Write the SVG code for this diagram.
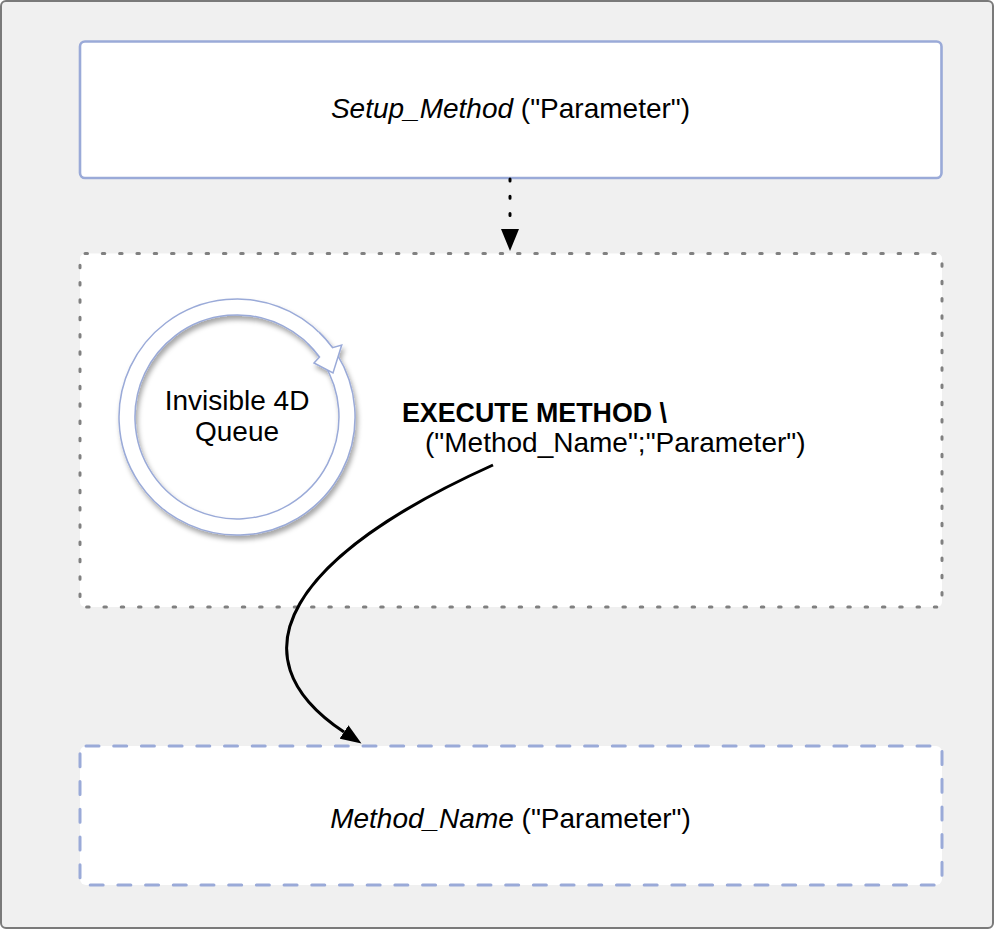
<svg xmlns="http://www.w3.org/2000/svg" width="995" height="930" viewBox="0 0 995 930">
  <defs>
    <style>
      .label { font-family: "Liberation Sans", Arial, Helvetica, sans-serif; font-size: 28px; fill: #000; }
      .em { font-style: italic; }
      .strong { font-weight: bold; font-size: 26.8px; }
      .solid-box { fill: #fff; stroke: #9aaad8; stroke-width: 2.6; }
      .dotted-box { fill: #fff; stroke: #808080; stroke-width: 3; stroke-linecap: round; stroke-dasharray: 2.5 14.8; }
      .dashed-box { fill: #fff; stroke: #9aaad8; stroke-width: 3; stroke-linecap: round; stroke-dasharray: 13 14.7; }
      .ring { fill: #fff; stroke: #9aaad8; stroke-width: 1.5; stroke-linejoin: miter; }
      .link { fill: none; stroke: #000; stroke-width: 3; }
      .dots { stroke-linecap: round; stroke-dasharray: 2 15.3; }
    </style>
    <marker id="head" markerUnits="userSpaceOnUse" viewBox="0 0 22 18" markerWidth="22" markerHeight="18" refX="0" refY="9" orient="auto">
      <path d="M0,0 L22,9 L0,18 Z" fill="#000"/>
    </marker>
    <marker id="head-small" markerUnits="userSpaceOnUse" viewBox="0 0 21 16" markerWidth="21" markerHeight="16" refX="0" refY="8" orient="auto">
      <path d="M0,0 L21,8 L0,16 Z" fill="#000"/>
    </marker>
    <filter id="shadow" x="-20%" y="-20%" width="140%" height="140%">
      <feDropShadow dx="2" dy="4" stdDeviation="2.5" flood-color="#000" flood-opacity="0.35"/>
    </filter>
  </defs>

  <!-- canvas frame -->
  <rect x="1" y="1" width="992" height="927" rx="5" fill="#f0f0f0" stroke="#7a7a7a" stroke-width="2"/>

  <g id="setup">
    <rect class="solid-box" x="80" y="41.5" width="861.5" height="136.5" rx="5"/>
    <text class="label" x="510.5" y="118" text-anchor="middle"><tspan class="em">Setup_Method</tspan> ("Parameter")</text>
  </g>

  <g id="process">
    <rect class="dotted-box" x="80" y="253.5" width="862" height="353.5" rx="5"/>
  </g>

  <!-- circular queue arrow: ring body, then the head laid over the tail -->
  <g id="queue" filter="url(#shadow)">
    <path class="ring" d="M337.07,354.47 A118,118 0 1 1 332.46,347.64 L319.52,357.04 A102,102 0 1 0 323.50,362.95 Z"/>
    <path class="ring" d="M318.97,332.12 A118,118 0 0 1 332.46,347.64 L341.7,345 L333,373 L314,363 L319.52,357.04 A102,102 0 0 0 307.86,343.63"/>
  </g>
  <g id="queue-label">
    <text class="label" x="237" y="410" text-anchor="middle">Invisible 4D</text>
    <text class="label" x="237" y="441" text-anchor="middle">Queue</text>
  </g>

  <g id="execute">
    <text class="label strong" x="402" y="422">EXECUTE METHOD \</text>
    <text class="label" x="425" y="452">("Method_Name";"Parameter")</text>
  </g>

  <g id="method">
    <rect class="dashed-box" x="80" y="746" width="862" height="139" rx="6"/>
    <text class="label" x="510.5" y="828" text-anchor="middle"><tspan class="em">Method_Name</tspan> ("Parameter")</text>
  </g>

  <g id="connectors">
    <path class="link dots" d="M510,179 L510,229" marker-end="url(#head)"/>
    <path class="link" d="M493,465 C293,555 228,655 344,732" marker-end="url(#head-small)"/>
  </g>
</svg>
